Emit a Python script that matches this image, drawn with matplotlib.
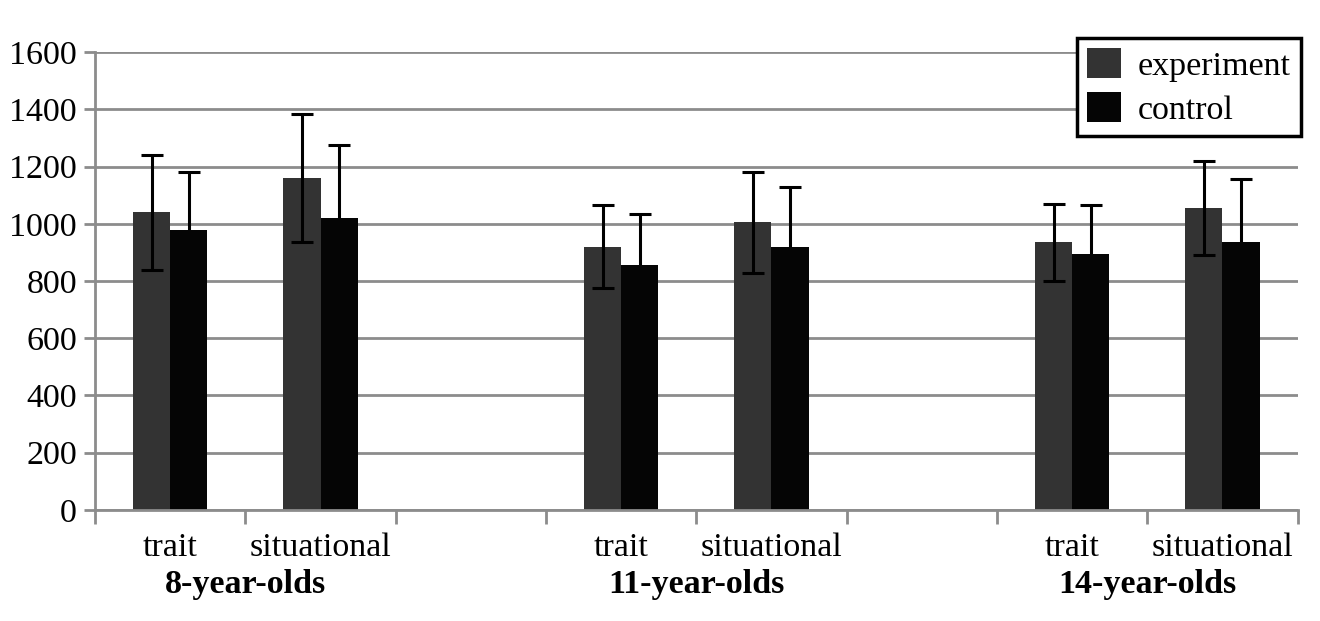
import matplotlib.pyplot as plt
import numpy as np

plt.rcParams['font.family'] = ['Liberation Serif', 'DejaVu Serif']

groups = ['8-year-olds', '11-year-olds', '14-year-olds']
conditions = ['trait', 'situational']
experiment = [1040, 1160, 920, 1005, 935, 1055]
experiment_err = [200, 225, 145, 177, 135, 165]
control = [980, 1020, 855, 920, 895, 935]
control_err = [200, 255, 180, 210, 170, 220]

# slot index for each bar pair (every third slot is left empty)
slots = np.array([0, 1, 3, 4, 6, 7]) + 0.5
w = 0.247
fs = 24.5

fig = plt.figure(figsize=(13.2, 6.21), dpi=100)
ax = fig.add_axes([0.072, 0.179, 0.911, 0.737])

ax.yaxis.grid(True, color='#8c8c8c', linewidth=2)
ax.set_axisbelow(True)

ax.bar(slots - w / 2, experiment, w, color='#333333', label='experiment', zorder=2)
ax.bar(slots + w / 2, control, w, color='#050505', label='control', zorder=2)
ax.errorbar(slots - w / 2, experiment, yerr=experiment_err, fmt='none',
            ecolor='black', elinewidth=2.2, capsize=8, capthick=2.2, zorder=3)
# control bars hide the lower half of their own error bars
ax.errorbar(slots + w / 2, control, yerr=control_err, fmt='none',
            ecolor='black', elinewidth=2.2, capsize=8, capthick=2.2, zorder=1.5)

ax.set_xlim(0, 8)
ax.set_ylim(0, 1600)
ax.set_yticks(range(0, 1601, 200))
ax.set_xticks(range(0, 9))
ax.set_xticklabels([])
ax.tick_params(axis='y', labelsize=fs, color='#8c8c8c', width=2, length=8, pad=5)
ax.tick_params(axis='x', color='#8c8c8c', width=2, length=10)

for s in ['top', 'right']:
    ax.spines[s].set_visible(False)
for s in ['left', 'bottom']:
    ax.spines[s].set_color('#8c8c8c')
    ax.spines[s].set_linewidth(2)

for i, x in enumerate(slots):
    ax.text(x, -133, conditions[i % 2], ha='center', va='center', fontsize=fs)
for g, name in enumerate(groups):
    ax.text(g * 3 + 1, -262, name, ha='center', va='center', fontsize=fs,
            fontweight='bold')

leg = ax.legend(loc='upper right', bbox_to_anchor=(1.003, 1.032), fontsize=fs,
                frameon=True, fancybox=False, framealpha=1, handlelength=1.0,
                handleheight=1.0, borderpad=0.3, labelspacing=0.3,
                handletextpad=0.5, borderaxespad=0.0)
leg.get_frame().set_edgecolor('black')
leg.get_frame().set_linewidth(2.5)

plt.savefig('out.png', dpi=100)
